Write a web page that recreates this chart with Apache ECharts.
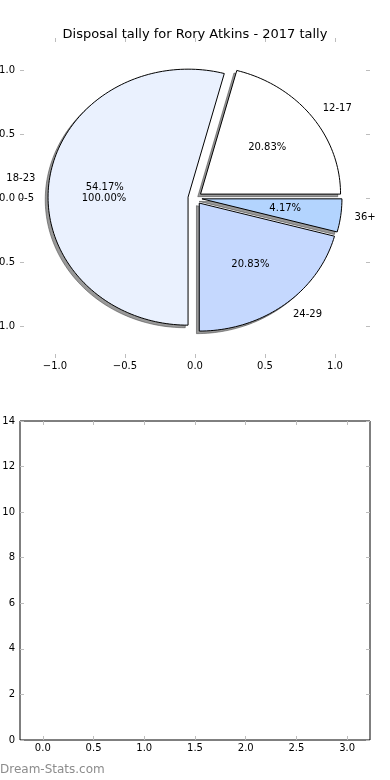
<!DOCTYPE html>
<html>
<head>
<meta charset="utf-8">
<script src="https://cdn.jsdelivr.net/npm/echarts@6/dist/echarts.min.js"></script>
<style>
  html, body { margin: 0; padding: 0; background: #fff; }
  #chart { width: 390px; height: 780px; }
</style>
</head>
<body>
<div id="chart"></div>
<script>
// ---- data ----
const chartTitle = 'Disposal tally for Rory Atkins - 2017 tally';
const categories = ['12-17', '18-23', '24-29', '36+'];
const counts = [5, 13, 5, 1];
const zeroCategory = '0-5';
const zeroPctLabel = '100.00%';
const pieTicks = [-1, -0.5, 0, 0.5, 1];
const lowerXTicks = [0, 0.5, 1, 1.5, 2, 2.5, 3];
const lowerYTicks = [0, 2, 4, 6, 8, 10, 12, 14];
const watermark = 'Dream-Stats.com';

// ---- styling ----
const sliceColors = ['#ffffff', '#eaf1fe', '#c5d8fe', '#b3d4fe'];
const EXPLODE = 0.05;
const FONT = '"DejaVu Sans", Verdana, sans-serif';
const TICK_COLOR = '#bdbdbd';

const total = counts.reduce((a, b) => a + b, 0);
const starts = [];
let acc = 0;
counts.forEach(c => { starts.push(acc / total * 360); acc += c; });
const pctLabels = counts.map(c => (c / total * 100).toFixed(2) + '%');

function wedgePoints(api, i, off) {
  const a1 = starts[i];
  const a2 = a1 + counts[i] / total * 360;
  const mid = (a1 + a2) / 2 * Math.PI / 180;
  const cx = EXPLODE * Math.cos(mid) + off;
  const cy = EXPLODE * Math.sin(mid) + off;
  const pts = [api.coord([cx, cy])];
  const n = Math.max(8, Math.ceil((a2 - a1) / 1.5));
  for (let k = 0; k <= n; k++) {
    const a = (a1 + (a2 - a1) * k / n) * Math.PI / 180;
    pts.push(api.coord([cx + Math.cos(a), cy + Math.sin(a)]));
  }
  return { pts, mid, cx, cy };
}

const fmt1 = v => (v < 0 ? '\u2212' : '') + Math.abs(v).toFixed(1);
const sliceData = counts.map((c, i) => [i, c]);

function axis(gridIndex, position, min, max, ticks, labelOpts) {
  return {
    type: 'value', gridIndex, position, min, max,
    axisLine: { show: false, onZero: false },
    splitLine: { show: false },
    axisTick: { show: true, inside: true, length: 4, lineStyle: { color: TICK_COLOR, width: 1 }, customValues: ticks },
    axisLabel: labelOpts
      ? Object.assign({ color: '#000', fontFamily: FONT, fontSize: 10, customValues: ticks }, labelOpts)
      : { show: false }
  };
}

const option = {
  animation: false,
  backgroundColor: '#fff',
  title: {
    text: chartTitle, left: 'center', top: 23,
    textStyle: { fontFamily: FONT, fontSize: 13, fontWeight: 'normal', color: '#000' }
  },
  graphic: [{
    type: 'text', left: 0, top: 764,
    style: { text: watermark, fill: '#8c8c8c', font: '12px ' + FONT }
  }],
  grid: [
    { left: 20, top: 38, width: 350, height: 320, show: false, containLabel: false, outerBoundsMode: 'none' },
    { left: 20, top: 421, width: 350, height: 319, show: true, borderColor: '#000', borderWidth: 1,
      backgroundColor: 'transparent', containLabel: false, outerBoundsMode: 'none' }
  ],
  xAxis: [
    axis(0, 'bottom', -1.25, 1.25, pieTicks, { margin: 3, formatter: fmt1 }),
    axis(0, 'top', -1.25, 1.25, pieTicks, null),
    axis(1, 'bottom', -0.225, 3.225, lowerXTicks, { margin: 3, formatter: fmt1 }),
    axis(1, 'top', -0.225, 3.225, lowerXTicks, null)
  ],
  yAxis: [
    axis(0, 'left', -1.25, 1.25, pieTicks, { margin: 5, formatter: fmt1 }),
    axis(0, 'right', -1.25, 1.25, pieTicks, null),
    axis(1, 'left', 0, 14, lowerYTicks, { margin: 5 }),
    axis(1, 'right', 0, 14, lowerYTicks, null)
  ],
  series: [
    {
      type: 'custom', name: 'shadow', xAxisIndex: 0, yAxisIndex: 0, z: 1, clip: false,
      data: sliceData,
      renderItem: (params, api) => {
        const w = wedgePoints(api, params.dataIndex, -0.02);
        return {
          type: 'polygon', shape: { points: w.pts },
          style: { fill: 'rgba(70,70,70,0.55)', stroke: 'rgba(70,70,70,0.55)', lineWidth: 1 }
        };
      }
    },
    {
      type: 'custom', name: 'wedges', xAxisIndex: 0, yAxisIndex: 0, z: 2, clip: false,
      data: sliceData,
      renderItem: (params, api) => {
        const i = params.dataIndex;
        const w = wedgePoints(api, i, 0);
        const lp = api.coord([w.cx + 1.1 * Math.cos(w.mid), w.cy + 1.1 * Math.sin(w.mid)]);
        const pp = api.coord([w.cx + 0.6 * Math.cos(w.mid), w.cy + 0.6 * Math.sin(w.mid)]);
        return {
          type: 'group',
          children: [
            { type: 'polygon', shape: { points: w.pts },
              style: { fill: sliceColors[i], stroke: '#000', lineWidth: 1 } },
            { type: 'text', x: lp[0], y: lp[1], z2: 10,
              style: { text: categories[i], fill: '#000', font: '10px ' + FONT,
                align: Math.cos(w.mid) > 0 ? 'left' : 'right', verticalAlign: 'middle' } },
            { type: 'text', x: pp[0], y: pp[1], z2: 10,
              style: { text: pctLabels[i], fill: '#000', font: '10px ' + FONT,
                align: 'center', verticalAlign: 'middle' } }
          ]
        };
      }
    },
    {
      type: 'custom', name: 'zero', xAxisIndex: 0, yAxisIndex: 0, z: 3, clip: false,
      data: [[0, 0]],
      renderItem: (params, api) => {
        const mid = Math.PI; // full-circle wedge midpoint
        const cx = EXPLODE * Math.cos(mid), cy = EXPLODE * Math.sin(mid);
        const lp = api.coord([cx + 1.1 * Math.cos(mid), cy + 1.1 * Math.sin(mid)]);
        const pp = api.coord([cx + 0.6 * Math.cos(mid), cy + 0.6 * Math.sin(mid)]);
        return {
          type: 'group',
          children: [
            { type: 'text', x: lp[0], y: lp[1],
              style: { text: zeroCategory, fill: '#000', font: '10px ' + FONT, align: 'right', verticalAlign: 'middle' } },
            { type: 'text', x: pp[0], y: pp[1],
              style: { text: zeroPctLabel, fill: '#000', font: '10px ' + FONT, align: 'center', verticalAlign: 'middle' } }
          ]
        };
      }
    }
  ]
};

const chart = echarts.init(document.getElementById('chart'), null, { renderer: 'canvas' });
chart.setOption(option);
</script>
</body>
</html>
